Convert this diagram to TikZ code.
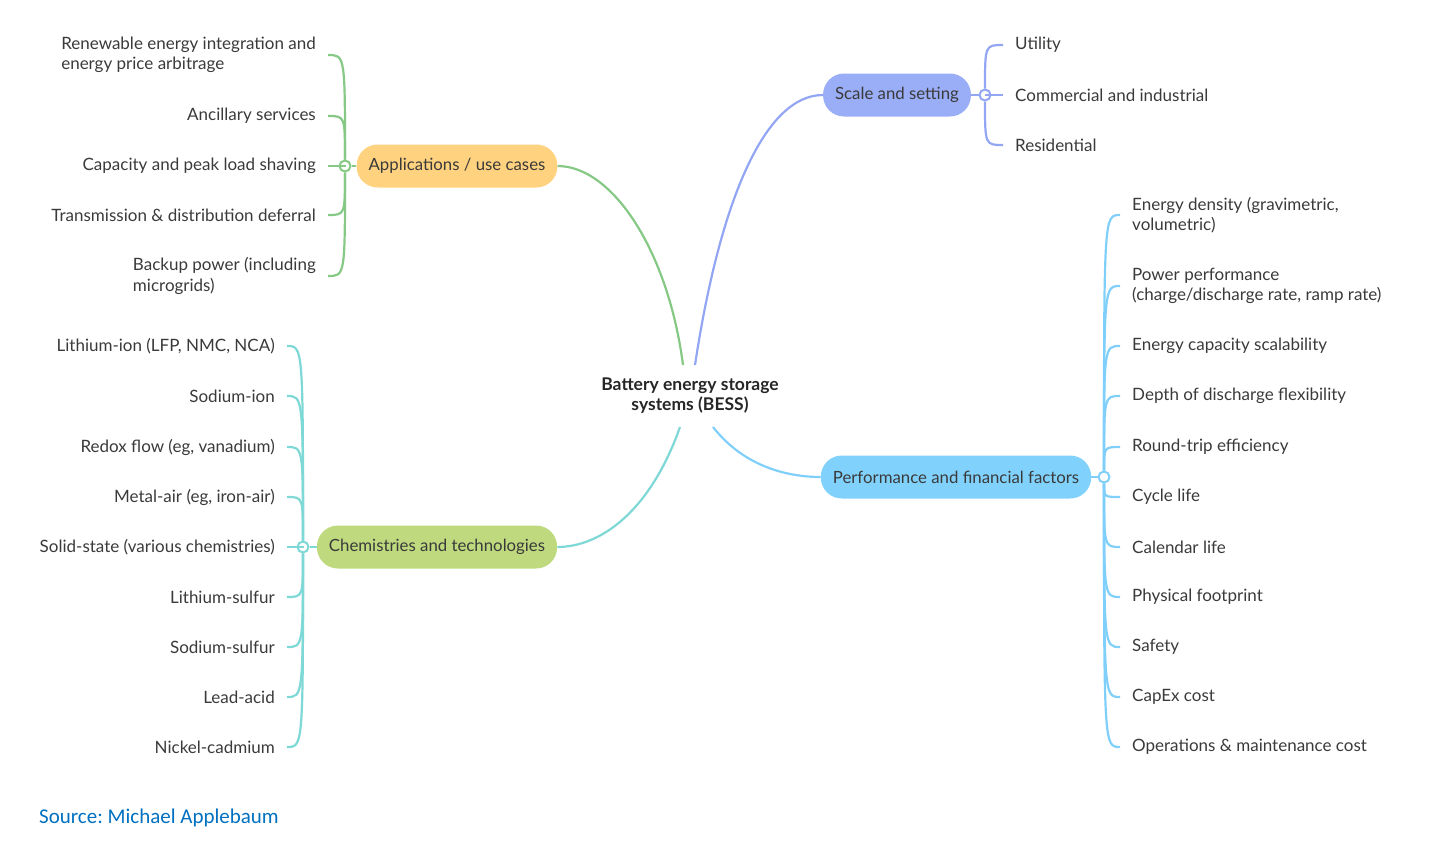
\documentclass[tikz,border=0pt]{standalone}
\usepackage{fontspec}
\setmainfont{Lato}
\newfontfamily\srcfont{Carlito}
\frenchspacing
\definecolor{txtgray}{HTML}{3A3A3A}
\definecolor{appfill}{HTML}{FFD27F}
\definecolor{appline}{HTML}{86C985}
\definecolor{scalefill}{HTML}{9AADF7}
\definecolor{scaleline}{HTML}{93A6F4}
\definecolor{perffill}{HTML}{80D2FC}
\definecolor{perfline}{HTML}{80CFFA}
\definecolor{chemfill}{HTML}{BED97E}
\definecolor{chemline}{HTML}{7DD8D6}
\definecolor{srcblue}{HTML}{0070C0}

\begin{document}
\begin{tikzpicture}[x=1pt,y=-1pt,
    leaf/.style={text=txtgray,font=\fontsize{17}{20.5}\selectfont,inner xsep=12pt,inner ysep=2pt,align=left},
    topic/.style={rounded corners=21pt,minimum height=43pt,inner xsep=12pt,text=txtgray,font=\fontsize{16.8}{19}\selectfont},
    hub/.style={circle,draw,fill=white,line width=2pt,minimum size=11pt,inner sep=0pt},
    twig/.style={line width=2.2pt}]
    \useasboundingbox (0,0) rectangle (1456,844);

    %BESS
    \node (bess) [font=\bfseries\fontsize{17.5}{20}\selectfont,text=black!85,align=center,inner ysep=13pt] at (690,396)
      {Battery energy storage\\systems (BESS)};

    %Applications
    \node (app) [topic,fill=appfill] at (457,166) {Applications / use cases};
    \node (apphub) [hub,draw=appline] at (345,166) {};
    \draw [twig,appline] (app.west) -- (apphub);
    \foreach \y/\t [count=\i] in {55/{Renewable energy integration and\\energy price arbitrage},
                                  116/{Ancillary services},
                                  166/{Capacity and peak load shaving},
                                  215/{Transmission \& distribution deferral},
                                  276/{Backup power (including\\microgrids)}}
    {
      \node (app-\i) [leaf,anchor=east] at (328,\y) {\t};
      \draw [twig,appline] (apphub) .. controls (apphub |- app-\i.east) .. (app-\i.east);
    }
    \draw [twig,appline] ([xshift=-7pt]bess.north) .. controls (668,250) and (612,166) .. (app.east);

    %Chemistries
    \node (chem) [topic,fill=chemfill] at (437,547) {Chemistries and technologies};
    \node (chemhub) [hub,draw=chemline] at (303,547) {};
    \draw [twig,chemline] (chem.west) -- (chemhub);
    \foreach \y/\t [count=\i] in {346/{Lithium-ion (LFP, NMC, NCA)},
                                  396/{Sodium-ion},
                                  447/{Redox flow (eg, vanadium)},
                                  497/{Metal-air (eg, iron-air)},
                                  547/{Solid-state (various chemistries)},
                                  597/{Lithium-sulfur},
                                  647/{Sodium-sulfur},
                                  697/{Lead-acid},
                                  747/{Nickel-cadmium}}
    {
      \node (chem-\i) [leaf,anchor=east] at (287,\y) {\t};
      \draw [twig,chemline] (chemhub) .. controls (chemhub |- chem-\i.east) .. (chem-\i.east);
    }
    \draw [twig,chemline] ([xshift=-10pt]bess.south) .. controls (650,512) and (600,547) .. (chem.east);

    %Scale
    \node (scale) [topic,fill=scalefill] at (897,95) {Scale and setting};
    \node (scalehub) [hub,draw=scaleline] at (985,95) {};
    \draw [twig,scaleline] (scale.east) -- (scalehub);
    \foreach \y/\t [count=\i] in {45/{Utility},95/{Commercial and industrial},145/{Residential}}
    {
      \node (scale-\i) [leaf,anchor=west] at (1003,\y) {\t};
      \draw [twig,scaleline] (scalehub) .. controls (scalehub |- scale-\i.west) .. (scale-\i.west);
    }
    \draw [twig,scaleline] ([xshift=5pt]bess.north) .. controls (720,200) and (765,95) .. (scale.west);

    %Performance
    \node (perf) [topic,fill=perffill] at (956,477) {Performance and financial factors};
    \node (perfhub) [hub,draw=perfline] at (1104,477) {};
    \draw [twig,perfline] (perf.east) -- (perfhub);
    \foreach \y/\t [count=\i] in {215/{Energy density (gravimetric,\\volumetric)},
                                  286/{Power performance\\(charge/discharge rate, ramp rate)},
                                  346/{Energy capacity scalability},
                                  396/{Depth of discharge flexibility},
                                  447/{Round-trip efficiency},
                                  497/{Cycle life},
                                  547/{Calendar life},
                                  597/{Physical footprint},
                                  647/{Safety},
                                  697/{CapEx cost},
                                  747/{Operations \& maintenance cost}}
    {
      \node (perf-\i) [leaf,anchor=west] at (1120,\y) {\t};
      \draw [twig,perfline] (perfhub) .. controls (perfhub |- perf-\i.west) .. (perf-\i.west);
    }
    \draw [twig,perfline] ([xshift=23pt]bess.south) .. controls (745,468) and (790,477) .. (perf.west);

    %source
    \node (src) [anchor=west,inner sep=0pt,text=srcblue,font=\srcfont\fontsize{21}{24}\selectfont] at (39,818)
      {Source: Michael Applebaum};
\end{tikzpicture}
\end{document}
